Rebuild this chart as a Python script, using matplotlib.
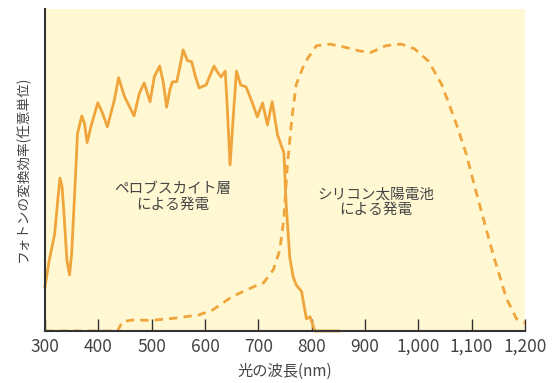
import matplotlib
matplotlib.use("Agg")
import matplotlib.pyplot as plt

plt.rcParams['font.family'] = ['Noto Sans CJK JP', 'DejaVu Sans']

# perovskite layer (solid)
pero_wl = [300, 308, 318, 324, 328, 332, 336, 341, 346, 350, 355, 361, 369,
           374, 379, 386, 399, 408, 417, 430, 438, 449, 467, 477, 486, 497,
           505, 515, 522, 528, 534, 539, 547, 553, 559, 567, 575, 582, 589,
           602, 611, 617, 623, 630, 638, 642, 647, 653, 659, 667, 677, 689,
           698, 708, 717, 726, 736, 748, 752, 759, 765, 771, 781, 790, 797,
           806, 851]
pero_val = [0.137, 0.22, 0.30, 0.407, 0.475, 0.448, 0.354, 0.22, 0.174,
            0.241, 0.407, 0.614, 0.668, 0.645, 0.585, 0.634, 0.709, 0.676,
            0.634, 0.717, 0.787, 0.728, 0.668, 0.739, 0.77, 0.712, 0.79,
            0.823, 0.77, 0.695, 0.748, 0.774, 0.774, 0.821, 0.873, 0.84,
            0.836, 0.79, 0.755, 0.764, 0.80, 0.823, 0.805, 0.789, 0.807,
            0.686, 0.516, 0.666, 0.807, 0.764, 0.758, 0.708, 0.665, 0.708,
            0.64, 0.712, 0.609, 0.553, 0.397, 0.228, 0.17, 0.143, 0.123,
            0.038, 0.044, 0.0, 0.0]

# silicon cell (dashed)
si_wl = [300, 436, 445, 464, 499, 539, 589, 614, 651, 692, 710, 728, 740,
         748, 754, 763, 771, 787, 809, 834, 866, 889, 911, 939, 968, 993,
         1019, 1044, 1070, 1089, 1114, 1140, 1165, 1184, 1203]
si_val = [0.0, 0.0, 0.029, 0.034, 0.033, 0.039, 0.05, 0.065, 0.107, 0.138,
          0.15, 0.19, 0.25, 0.35, 0.505, 0.663, 0.765, 0.833, 0.886, 0.891,
          0.88, 0.87, 0.865, 0.886, 0.891, 0.876, 0.838, 0.765, 0.649,
          0.554, 0.397, 0.239, 0.102, 0.038, 0.023]

xticks = [300, 400, 500, 600, 700, 800, 900, 1000, 1100, 1200]
xticklabels = ["300", "400", "500", "600", "700", "800", "900", "1,000",
               "1,100", "1,200"]

ORANGE = "#f0a53c"
GRAY = "#333333"
TEXT = "#444444"

fig = plt.figure(figsize=(5.6, 3.83), dpi=100)
ax = fig.add_axes([45 / 560, 52 / 383, 480 / 560, 322 / 383])
ax.set_facecolor("#fff8d2")

ax.plot(pero_wl, pero_val, color=ORANGE, lw=2.0, clip_on=False,
        solid_joinstyle="round")
ax.plot(si_wl, si_val, color=ORANGE, lw=2.0, dashes=(3, 2.2))

ax.set_xlim(300, 1200)
ax.set_ylim(0, 1)
ax.set_xticks(xticks)
ax.set_xticklabels(xticklabels)
ax.set_yticks([])
ax.tick_params(axis="x", direction="in", length=9, width=1, color=GRAY,
               labelsize=12.5, labelcolor=TEXT, pad=5)
for s in ("top", "right"):
    ax.spines[s].set_visible(False)
for s in ("left", "bottom"):
    ax.spines[s].set_color(GRAY)
    ax.spines[s].set_linewidth(1.5)

ax.set_xlabel("光の波長(nm)", fontsize=11, color=TEXT, labelpad=5)
ax.set_ylabel("フォトンの変換効率(任意単位)", fontsize=9.8, color=TEXT,
              labelpad=11)

ax.text(539, 0.416, "ペロブスカイト層\nによる発電", ha="center", va="center",
        fontsize=10.5, color=TEXT, linespacing=1.2)
ax.text(920, 0.40, "シリコン太陽電池\nによる発電", ha="center", va="center",
        fontsize=10.5, color=TEXT, linespacing=1.2)

fig.savefig("out.png", dpi=100)
